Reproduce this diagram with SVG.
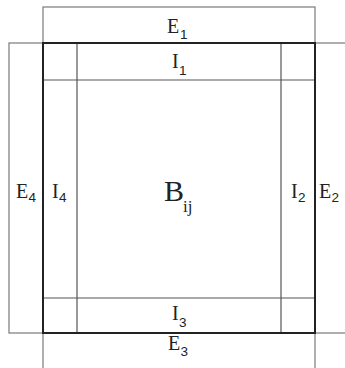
<svg xmlns="http://www.w3.org/2000/svg" width="345" height="368" viewBox="0 0 345 368">
<style>
.ext{fill:none;stroke:#7a7a7a;stroke-width:1.2}
.int{fill:none;stroke:#555;stroke-width:1.2}
.main{fill:none;stroke:#222;stroke-width:2}
.t{font-family:"Liberation Serif",serif;font-size:20px;fill:#222}
.s{font-family:"Liberation Sans",sans-serif;font-size:13.5px;fill:#222}
.b{font-family:"Liberation Serif",serif;font-size:30px;fill:#222}
.bs{font-family:"Liberation Serif",serif;font-size:17px;fill:#222}
</style>
<rect width="345" height="368" fill="#fff"/>
<g id="E1"><rect class="ext" x="43" y="7" width="272" height="36"/><text class="t" x="167" y="33">E</text><text class="s" x="180" y="39">1</text></g>
<g id="E4"><rect class="ext" x="9" y="43" width="34" height="290"/><text class="t" x="16" y="198">E</text><text class="s" x="28.5" y="202">4</text></g>
<g id="E2"><rect class="ext" x="315" y="43" width="40" height="290"/><text class="t" x="319" y="198">E</text><text class="s" x="331.5" y="202">2</text></g>
<g id="E3"><rect class="ext" x="43" y="333" width="272" height="40"/><text class="t" x="168" y="350">E</text><text class="s" x="180.5" y="356">3</text></g>
<g id="I1"><line class="int" x1="43" y1="80" x2="315" y2="80"/><text class="t" x="172" y="68">I</text><text class="s" x="179" y="75">1</text></g>
<g id="I3"><line class="int" x1="43" y1="298" x2="315" y2="298"/><text class="t" x="172" y="320">I</text><text class="s" x="179" y="327">3</text></g>
<g id="I4"><line class="int" x1="77" y1="43" x2="77" y2="333"/><text class="t" x="52" y="198">I</text><text class="s" x="59" y="202">4</text></g>
<g id="I2"><line class="int" x1="281" y1="43" x2="281" y2="333"/><text class="t" x="291" y="198">I</text><text class="s" x="298" y="202">2</text></g>
<g id="B"><rect class="main" x="43" y="43" width="272" height="290"/><text class="b" x="164" y="201">B</text><text class="bs" x="183" y="212">ij</text></g>
</svg>
